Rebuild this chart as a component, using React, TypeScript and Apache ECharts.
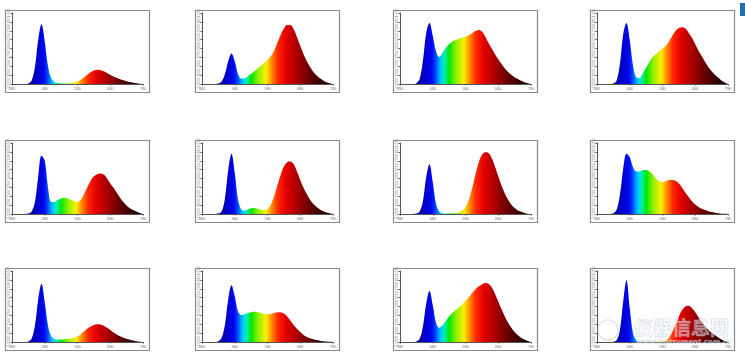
import React, { useEffect, useRef } from "react";
import * as echarts from "echarts";

const wavelengths = [380,390,400,410,420,430,440,450,460,470,480,490,500,510,520,530,540,550,560,570,580,590,600,610,620,630,640,650,660,670,680,690,700,710,720,730,740,750,760,770,780];
const xTicks = ["380", "480", "580", "680", "780"];

const p1 = [0,0,0,0,0,0.008,0.05,0.24,0.62,0.84,0.6,0.25,0.08,0.028,0.013,0.008,0.007,0.008,0.012,0.02,0.035,0.06,0.095,0.13,0.165,0.19,0.2,0.195,0.18,0.155,0.13,0.105,0.085,0.068,0.052,0.04,0.028,0.018,0.01,0.005,0];
const p2 = [0,0,0,0,0,0.006,0.035,0.14,0.32,0.43,0.32,0.14,0.075,0.08,0.11,0.145,0.18,0.22,0.26,0.3,0.34,0.39,0.47,0.58,0.69,0.78,0.83,0.83,0.77,0.66,0.54,0.42,0.32,0.24,0.17,0.12,0.08,0.05,0.025,0.01,0];
const p3 = [0,0,0,0,0,0.012,0.07,0.33,0.72,0.86,0.68,0.46,0.38,0.44,0.51,0.56,0.6,0.62,0.64,0.655,0.665,0.69,0.715,0.745,0.76,0.74,0.67,0.58,0.5,0.42,0.35,0.28,0.22,0.17,0.13,0.095,0.07,0.045,0.025,0.01,0];
const p4 = [0,0,0,0,0,0.007,0.05,0.28,0.7,0.86,0.62,0.26,0.09,0.08,0.15,0.23,0.31,0.38,0.42,0.46,0.5,0.54,0.6,0.68,0.75,0.79,0.8,0.78,0.72,0.65,0.56,0.47,0.39,0.31,0.24,0.18,0.13,0.09,0.05,0.02,0];
const p5 = [0,0,0,0,0,0.006,0.035,0.17,0.52,0.82,0.75,0.37,0.17,0.17,0.2,0.22,0.23,0.22,0.2,0.18,0.17,0.2,0.28,0.38,0.47,0.53,0.56,0.57,0.555,0.5,0.43,0.37,0.3,0.23,0.17,0.12,0.08,0.055,0.035,0.015,0];
const p6 = [0,0,0,0,0,0.006,0.035,0.22,0.62,0.85,0.58,0.2,0.065,0.05,0.065,0.08,0.085,0.075,0.06,0.055,0.07,0.13,0.25,0.4,0.55,0.67,0.73,0.74,0.7,0.6,0.48,0.37,0.28,0.2,0.14,0.1,0.065,0.04,0.02,0.01,0];
const p7 = [0,0,0,0,0,0.006,0.035,0.18,0.52,0.7,0.45,0.14,0.035,0.012,0.008,0.008,0.01,0.015,0.025,0.05,0.1,0.2,0.36,0.55,0.72,0.83,0.87,0.86,0.79,0.67,0.53,0.4,0.29,0.2,0.13,0.085,0.05,0.03,0.015,0.005,0];
const p8 = [0,0,0,0,0,0.01,0.06,0.27,0.64,0.85,0.8,0.66,0.6,0.6,0.62,0.62,0.6,0.56,0.5,0.46,0.45,0.46,0.48,0.48,0.47,0.43,0.37,0.3,0.24,0.18,0.135,0.1,0.075,0.055,0.04,0.028,0.018,0.01,0.005,0.002,0];
const p9 = [0,0,0,0,0,0.007,0.05,0.23,0.6,0.82,0.56,0.23,0.08,0.042,0.035,0.035,0.04,0.045,0.05,0.06,0.08,0.11,0.15,0.19,0.22,0.24,0.25,0.245,0.23,0.2,0.17,0.135,0.105,0.08,0.06,0.045,0.03,0.02,0.01,0.005,0];
const p10 = [0,0,0,0,0,0.012,0.06,0.24,0.6,0.8,0.64,0.43,0.38,0.39,0.41,0.42,0.425,0.42,0.41,0.395,0.39,0.395,0.41,0.42,0.42,0.4,0.36,0.3,0.24,0.185,0.14,0.1,0.072,0.052,0.038,0.027,0.018,0.011,0.006,0.002,0];
const p11 = [0,0,0,0,0,0.007,0.045,0.22,0.54,0.72,0.52,0.27,0.2,0.24,0.3,0.36,0.41,0.45,0.49,0.53,0.58,0.63,0.69,0.74,0.78,0.81,0.83,0.82,0.77,0.68,0.57,0.46,0.36,0.27,0.2,0.14,0.095,0.06,0.035,0.015,0];
const p12 = [0,0,0,0,0,0.004,0.025,0.17,0.57,0.87,0.48,0.12,0.025,0.008,0.005,0.005,0.005,0.005,0.006,0.008,0.012,0.025,0.06,0.14,0.25,0.36,0.45,0.5,0.51,0.48,0.42,0.35,0.28,0.22,0.17,0.13,0.1,0.065,0.035,0.015,0];

const panels = [p1, p2, p3, p4, p5, p6, p7, p8, p9, p10, p11, p12];

const colLefts = [5, 195, 393, 590];
const rowTops = [10, 140, 268];
const BOX_W = 144;
const BOX_H = 82;

const spectrumStops = [
  { offset: 0, color: "#000070" },
  { offset: 0.14, color: "#0000a8" },
  { offset: 0.2, color: "#0000d0" },
  { offset: 0.245, color: "#0008f0" },
  { offset: 0.275, color: "#0050ff" },
  { offset: 0.3, color: "#00a8ff" },
  { offset: 0.32, color: "#00d8f0" },
  { offset: 0.345, color: "#00f0a0" },
  { offset: 0.375, color: "#00e800" },
  { offset: 0.43, color: "#90f000" },
  { offset: 0.49, color: "#ffee00" },
  { offset: 0.53, color: "#ff9000" },
  { offset: 0.58, color: "#ff2800" },
  { offset: 0.64, color: "#e40000" },
  { offset: 0.72, color: "#ad0000" },
  { offset: 0.82, color: "#680000" },
  { offset: 0.92, color: "#300000" },
  { offset: 1, color: "#100000" },
];

export default function App() {
  const ref = useRef<HTMLDivElement>(null);
  useEffect(() => {
    if (!ref.current) return;
    const chart = echarts.init(ref.current, undefined, { renderer: "svg" });
    const grids: any[] = [];
    const xAxes: any[] = [];
    const yAxes: any[] = [];
    const series: any[] = [];
    const graphics: any[] = [];
    panels.forEach((vals, i) => {
      const c = i % 4;
      const r = Math.floor(i / 4);
      const bx = colLefts[c];
      const by = rowTops[r];
      graphics.push({
        type: "rect",
        shape: { x: bx + 0.5, y: by + 0.5, width: BOX_W, height: BOX_H },
        style: { fill: "none", stroke: "#8a8a8a", lineWidth: 1.2 },
        z: 10,
      });
      grids.push({ left: bx + 7, top: by + 3, width: BOX_W - 13, height: BOX_H - 11 });
      xAxes.push({
        type: "value",
        gridIndex: i,
        min: 380,
        max: 780,
        interval: 100,
        axisLine: { show: true, lineStyle: { color: "#555", width: 1 } },
        axisTick: { show: true, length: 1.5, lineStyle: { color: "#555" } },
        axisLabel: {
          fontSize: 4,
          color: "#777",
          margin: 2,
          formatter: (v: number) => xTicks[Math.round((v - 380) / 100)] ?? "",
        },
        splitLine: { show: false },
      });
      yAxes.push({
        type: "value",
        gridIndex: i,
        min: 0,
        max: 1,
        interval: 0.125,
        axisLine: { show: true, lineStyle: { color: "#555", width: 1 } },
        axisTick: { show: true, length: 1.5, lineStyle: { color: "#555" } },
        axisLabel: {
          fontSize: 3.5,
          color: "#777",
          margin: 1.5,
          rotate: 90,
          formatter: (v: number) => v.toFixed(3),
        },
        splitLine: { show: false },
      });
      series.push({
        type: "line",
        xAxisIndex: i,
        yAxisIndex: i,
        data: wavelengths.map((w, k) => [w, vals[k]]),
        smooth: 0.35,
        showSymbol: false,
        lineStyle: { width: 0 },
        areaStyle: {
          opacity: 1,
          color: new echarts.graphic.LinearGradient(0, 0, 1, 0, spectrumStops),
        },
      });
    });
    graphics.push({
      type: "rect",
      shape: { x: 740, y: 3, width: 5, height: 13 },
      style: { fill: "#1f6fb5" },
    });
    graphics.push({
      type: "circle",
      shape: { cx: 608, cy: 330, r: 10 },
      style: { fill: "rgba(255,255,255,0.35)", stroke: "rgba(170,185,205,0.45)", lineWidth: 1.2 },
      z: 20,
    });
    graphics.push({
      type: "text",
      x: 634,
      y: 317,
      style: {
        text: "仪器信息网",
        font: "bold 19px 'Noto Sans CJK SC'",
        fill: "rgba(255,255,255,0.45)",
        stroke: "rgba(165,180,200,0.45)",
        lineWidth: 1,
      },
      z: 20,
    });
    graphics.push({
      type: "text",
      x: 636,
      y: 338,
      style: {
        text: "www.instrument.com.cn",
        font: "bold 7px 'DejaVu Sans'",
        fill: "rgba(255,255,255,0.45)",
        stroke: "rgba(165,180,200,0.45)",
        lineWidth: 0.6,
      },
      z: 20,
    });
    chart.setOption({
      animation: false,
      backgroundColor: "#ffffff",
      grid: grids,
      xAxis: xAxes,
      yAxis: yAxes,
      series,
      graphic: graphics,
    });
    return () => chart.dispose();
  }, []);
  return (
    <div
      ref={ref}
      style={{ position: "absolute", left: 0, top: 0, width: 745, height: 363, background: "#fff" }}
    />
  );
}
